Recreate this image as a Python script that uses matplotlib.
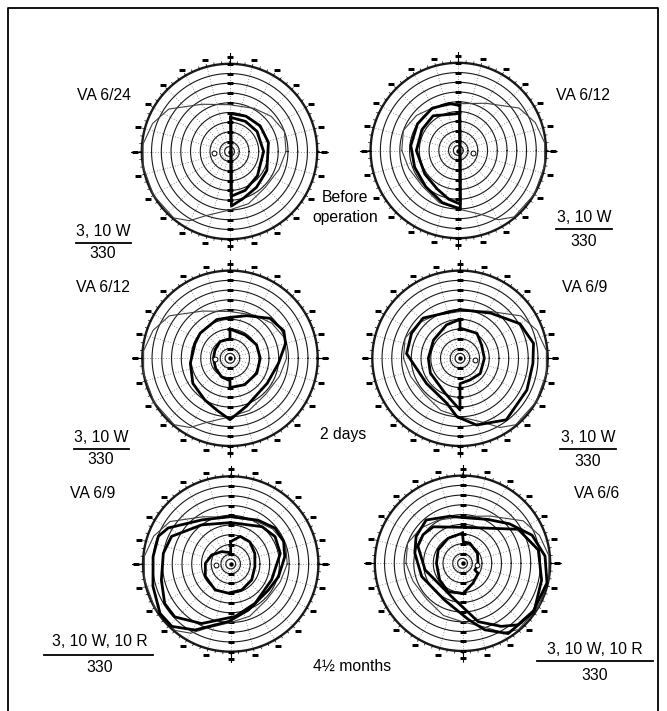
import numpy as np
import matplotlib
matplotlib.use("Agg")
import matplotlib.pyplot as plt
from matplotlib.lines import Line2D

plt.rcParams['font.family'] = ['Liberation Sans', 'DejaVu Sans']

W, H = 667, 711

# ---------------- chart grid (Goldmann perimeter form) ----------------
ring_radii = [5, 10, 20, 30, 40, 50, 60, 70, 80, 90]
meridian_angles = list(range(0, 360, 15))
scale_label_radius = 97
meridian_label_radii = [10, 20, 30, 40, 50, 60, 70, 80, 90]

# normal field outline (thin line), left-eye orientation (temporal at 180 deg)
normal_angles = [0, 20, 40, 60, 90, 120, 145, 160, 175, 190, 210, 230, 240, 250, 270, 290, 315, 340]
normal_r = [58, 60, 56, 51, 48, 56, 76, 84, 89, 90, 90, 89, 82, 70, 60, 57, 52, 54]

# ---------------- isopters (angle deg, eccentricity deg) ----------------
# Top left: VA 6/24, before operation
tl_outer_a = [88, 65, 40, 13, -27, -53, -73, -88]
tl_outer_r = [39, 40, 41, 41, 43, 46, 50, 56]
tl_inner_a = [88, 62, 36, 0, -41, -68, -88]
tl_inner_r = [35, 35, 35, 35, 38, 43, 46]

# Top right: VA 6/12, before operation
tr_outer_a = [88, 100, 122, 147, 174, 201, 228, 253, 272]
tr_outer_r = [46, 49, 51, 50, 49, 48, 50, 56, 60]
tr_inner_a = [88, 126, 150, 180, 215, 241, 259, 272]
tr_inner_r = [38, 44, 43, 43, 42, 45, 51, 55]

# Middle left: VA 6/12, 2 days
ml_outer_a = [15, 27, 45, 68.5, 90, 109, 140, 157, 187, 214, 239, 256, 270, 289, 326, 354]
ml_outer_r = [59, 62, 58, 47, 42, 42, 40, 39, 41, 46, 50, 55, 63, 52, 46, 50]
ml_inner_a = [90, 90, 121, 151, 180, 215, 246, 270, 270, 299, 331, 360, 387, 417]
ml_inner_r = [30, 20, 20, 17.6, 17, 18, 21, 23, 30, 31, 31.5, 31, 30.6, 28.5]

# Middle right: VA 6/9, 2 days
mr_outer_a = [90, 56, 30, 11.5, -4, -25.4, -53, -76, -93, -106.5, -143, -185, -207.4, -227.5]
mr_outer_r = [50, 56, 71, 77, 75, 76, 79, 70.6, 60, 48, 43, 55, 56, 56]
mr_inner_a = [90, 90, 56, 31.6, 0, -37, -65, -90, -90, -113, -153.4, -180, -214.5, -248]
mr_inner_r = [40, 31, 31, 26, 25, 26, 24.5, 26, 53, 39, 34, 32.5, 33, 37]

# Bottom left: VA 6/9, 4 1/2 months
bl_outer1_a = [90, 58, 39, 23, 7.7, -15, -35, -69, -92, -118.4, -133.3, -145, -164, -185.4, -201, -210, -237]
bl_outer1_r = [48.6, 53, 58.5, 59, 56, 50.7, 47, 50.6, 59, 77, 88, 88.5, 83, 80, 79.5, 74, 54]
bl_outer2_a = [90, 50, 31.7, 12, -21, -58, -85, -116, -136.6, -149, -167, -189, -205, -233.4]
bl_outer2_r = [42.5, 50, 53.5, 52, 45, 47.5, 54, 68, 79, 79, 73, 70, 67, 50]
bl_inner_a = [90, 71, 49, 23.7, -6, -37, -67, -95, -121, -154, -181.5, -205.4, -234, -270]
bl_inner_r = [23, 30, 30, 27, 25, 27, 29, 30, 31, 29, 26, 21.6, 15.7, 11.6]

# Bottom right: VA 6/6, 4 1/2 months
br_outer1_a = [90, 60, 40, 22, 5, -13, -35, -57, -71.5, -84, -116, -162, -192, -210, -230, -255]
br_outer1_r = [47, 52, 63, 77, 85, 89, 88, 86, 72, 58, 42, 44, 50, 55, 58, 50]
br_outer2_a = [86, 31.4, 10, -12, -33, -48, -58.4, -75, -108, -170, -201, -216, -231.3]
br_outer2_r = [37, 67, 79, 83, 88, 85, 76, 62, 36, 39, 49, 50, 48]
br_inner_a = [90, 120, 151, 180, 216, 243, 271, 298, 327, 331.6, 354, 393.7, 430, 448]
br_inner_r = [31, 29.6, 28.5, 26.7, 29, 32.6, 31, 23, 19, 14.4, 16, 18.5, 22, 22]

blind_spot_r = 15.5
blind_spot_angle_left = 184
blind_spot_angle_right = 352

# ---------------- labels ----------------
va_labels = ["VA 6/24", "VA 6/12", "VA 6/12", "VA 6/9", "VA 6/9", "VA 6/6"]
target_labels = ["3, 10 W", "3, 10 W", "3, 10 W", "3, 10 W", "3, 10 W, 10 R", "3, 10 W, 10 R"]
denominator_labels = ["330"] * 6
stage_labels = ["Before", "operation", "2 days", "4\u00bd months"]

fig = plt.figure(figsize=(W / 100, H / 100), dpi=100)
fig.patch.set_facecolor("white")

R90_PX = 87.7
RMAX = 102
HALF = R90_PX * RMAX / 90.0


def rad(a):
    return np.deg2rad(np.asarray(a, dtype=float))


def closed(a, r):
    a = list(a) + [a[0]]
    r = list(r) + [r[0]]
    return rad(a), r


def draw_chart(cx, cy, eye, isopters):
    ax = fig.add_axes([(cx - HALF) / W, 1 - (cy + HALF) / H, 2 * HALF / W, 2 * HALF / H],
                      projection="polar")
    ax.set_ylim(0, RMAX)
    ax.set_axis_off()
    th = np.linspace(0, 2 * np.pi, 721)
    for r in ring_radii:
        ax.plot(th, np.full_like(th, r), color="0.1", lw=1.7 if r == 90 else 0.8, zorder=2)
    for a in meridian_angles:
        ax.plot(rad([a, a]), [5, 90], color="0.45", lw=0.6, ls=(0, (1, 2.2)), zorder=1)
    # fine degree ticks on outer circle
    fa = np.arange(0, 360, 5)
    tt = np.repeat(rad(fa), 3)
    rr = np.tile([90, 92.5, np.nan], len(fa))
    ax.plot(tt, rr, color="k", lw=0.5, zorder=2)
    # cardinal extensions
    for a in [0, 90, 180, 270]:
        ax.plot(rad([a, a]), [90, 101], color="k", lw=0.8, zorder=2)
    # printed scale labels (tiny blobs)
    ax.plot(rad(meridian_angles), [scale_label_radius] * len(meridian_angles), ls="none",
            marker="_", ms=4.6, mew=2.0, color="k", zorder=3)
    ax.plot(rad([90] * len(meridian_label_radii) + [270] * len(meridian_label_radii)),
            meridian_label_radii * 2, ls="none", marker="_", ms=4.2, mew=2.0, color="k", zorder=3)
    # normal field
    if eye == "L":
        na = normal_angles
        bs = blind_spot_angle_left
    else:
        na = [180 - a for a in normal_angles]
        bs = blind_spot_angle_right
    t, r = closed(na, normal_r)
    ax.plot(t, r, color="0.25", lw=0.8, zorder=4)
    for a, r in isopters:
        t, r = closed(a, r)
        ax.plot(t, r, color="k", lw=2.0, solid_joinstyle="round", zorder=5)
    ax.plot(rad(bs), blind_spot_r, marker="o", ms=3.5, mfc="white", mec="k", mew=0.7, zorder=6)
    ax.plot(0, 0, marker="o", ms=2.2, color="k", zorder=6)
    return ax


charts = [
    (229.5, 151.5, "L", [(tl_outer_a, tl_outer_r), (tl_inner_a, tl_inner_r)]),
    (458.3, 150.5, "R", [(tr_outer_a, tr_outer_r), (tr_inner_a, tr_inner_r)]),
    (230.0, 358.3, "L", [(ml_outer_a, ml_outer_r), (ml_inner_a, ml_inner_r)]),
    (460.0, 358.3, "R", [(mr_outer_a, mr_outer_r), (mr_inner_a, mr_inner_r)]),
    (230.7, 564.0, "L", [(bl_outer1_a, bl_outer1_r), (bl_outer2_a, bl_outer2_r), (bl_inner_a, bl_inner_r)]),
    (462.5, 563.3, "R", [(br_outer1_a, br_outer1_r), (br_outer2_a, br_outer2_r), (br_inner_a, br_inner_r)]),
]
for cx, cy, eye, iso in charts:
    draw_chart(cx, cy, eye, iso)


def ftext(x, y, s, **kw):
    fig.text(x / W, 1 - y / H, s, ha="center", va="center", fontsize=11.3, **kw)


def fline(x0, x1, y, lw=1.3):
    fig.add_artist(Line2D([x0 / W, x1 / W], [1 - y / H, 1 - y / H], color="k", lw=lw))


# VA labels
va_pos = [(104, 95), (583, 96), (103, 287), (585, 287), (93, 493), (597, 493)]
for (x, y), s in zip(va_pos, va_labels):
    ftext(x, y, s)

# target fractions: (x center, numerator y, line y, denominator y, line x0, line x1)
frac_pos = [(103, 232, 243, 254, 76, 131),
            (584, 217, 229, 242, 556, 612),
            (101, 438, 449, 460, 74, 129),
            (588, 438, 449, 462, 560, 616),
            (100, 642, 655, 667, 44, 153),
            (595, 649, 661, 676, 537, 653)]
for (x, yn, yl, yd, x0, x1), tn, td in zip(frac_pos, target_labels, denominator_labels):
    ftext(x, yn, tn)
    fline(x0, x1, yl)
    ftext(x, yd, td)

stage_pos = [(345, 197), (345, 218), (343, 434), (352, 666)]
for (x, y), s in zip(stage_pos, stage_labels):
    ftext(x, y, s)

# frame
fig.add_artist(Line2D([8 / W, 8 / W, 658 / W, 658 / W], [0, 1 - 8 / H, 1 - 8 / H, 0], color="k", lw=1.3))

fig.savefig("out.png", dpi=100, facecolor="white")
